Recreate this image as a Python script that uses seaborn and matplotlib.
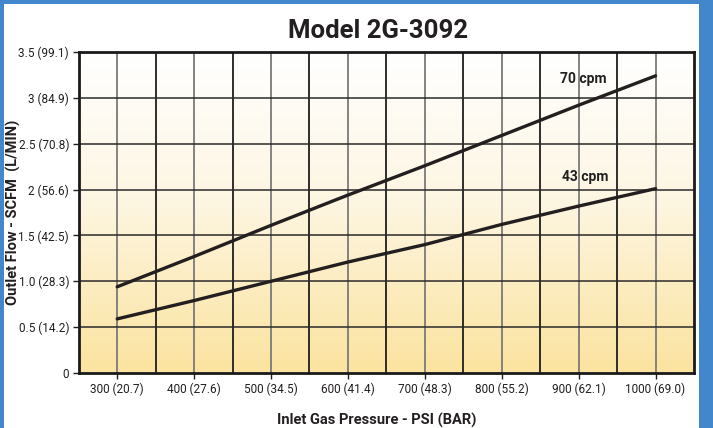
import numpy as np
import pandas as pd
import matplotlib
matplotlib.use("Agg")
import matplotlib.pyplot as plt
from matplotlib.patches import Rectangle
import seaborn as sns

# data
pressure_psi = [300, 400, 500, 600, 700, 800, 900, 1000]
flow_70cpm = [0.94, 1.27, 1.61, 1.94, 2.26, 2.59, 2.92, 3.24]
flow_43cpm = [0.59, 0.79, 1.00, 1.21, 1.40, 1.62, 1.82, 2.01]
series_names = ["70 cpm", "43 cpm"]
x_ticks = [300, 400, 500, 600, 700, 800, 900, 1000]
x_tick_labels = ["300 (20.7)", "400 (27.6)", "500 (34.5)", "600 (41.4)",
                 "700 (48.3)", "800 (55.2)", "900 (62.1)", "1000 (69.0)"]
y_ticks = [0, 0.5, 1.0, 1.5, 2.0, 2.5, 3.0, 3.5]
y_tick_labels = ["0", "0.5 (14.2)", "1.0 (28.3)", "1.5 (42.5)", "2 (56.6)",
                 "2.5 (70.8)", "3 (84.9)", "3.5 (99.1)"]

df = pd.DataFrame({
    "pressure": pressure_psi * 2,
    "flow": flow_70cpm + flow_43cpm,
    "series": [series_names[0]] * len(pressure_psi) + [series_names[1]] * len(pressure_psi),
})

sns.set_style("white")
plt.rcParams["font.family"] = ["Roboto", "DejaVu Sans"]

fig = plt.figure(figsize=(7.13, 4.28), dpi=100)
fig.patch.set_facecolor("#4286cb")
# white card behind the chart
fig.patches.append(Rectangle((4 / 713, 0), 695 / 713, 1 - 4 / 428,
                             transform=fig.transFigure, facecolor="white",
                             edgecolor="none", zorder=-5))

ax = fig.add_axes([78.75 / 713, 1 - 373 / 428, (694 - 78.75) / 713, (373 - 52) / 428])
ax.set_zorder(2)

# white -> pale yellow gradient inside the plot area
grad = np.linspace(0, 1, 256).reshape(-1, 1)
top = np.array(matplotlib.colors.to_rgb("#ffffff"))
mid = np.array(matplotlib.colors.to_rgb("#fdf6e3"))
bot = np.array(matplotlib.colors.to_rgb("#fbe39f"))
g = grad[:, :, None]
img = np.where(g < 0.45, top + (mid - top) * (g / 0.45),
               mid + (bot - mid) * ((g - 0.45) / 0.55))
ax.imshow(img, extent=[250, 1050, 0, 3.5], origin="upper", aspect="auto", zorder=0)

# grid: grey at labelled x ticks, black in between, dark horizontals
for x in np.arange(300, 1050, 50):
    c = "#7a7a7a" if x % 100 == 0 else "#1e1e1e"
    ax.axvline(x, color=c, lw=1.3, zorder=1)
for y in y_ticks[1:-1]:
    ax.axhline(y, color="#2a2a2a", lw=1.1, zorder=1)

sns.lineplot(data=df, x="pressure", y="flow", hue="series",
             palette=["#231f20", "#231f20"], linewidth=2.4, legend=False,
             ax=ax, zorder=3)
ax.set_xlim(250, 1050)
ax.set_ylim(0, 3.5)

ax.text(906, 3.21, "70 cpm", ha="center", va="center", fontsize=10,
        fontweight="bold", color="#231f20", zorder=4)
ax.text(908, 2.14, "43 cpm", ha="center", va="center", fontsize=10,
        fontweight="bold", color="#231f20", zorder=4)

ax.set_xticks(x_ticks)
ax.set_xticklabels(x_tick_labels, fontsize=8.5)
ax.set_yticks(y_ticks)
ax.set_yticklabels(y_tick_labels, fontsize=8.5)
ax.tick_params(axis="both", length=4, width=1, color="#231f20", pad=3,
               labelcolor="#231f20", direction="out")
ax.xaxis.set_ticks_position("bottom")
ax.yaxis.set_ticks_position("left")
for s in ax.spines.values():
    s.set_visible(True)
    s.set_color("#1a1a1a")
    s.set_linewidth(2)
    s.set_zorder(5)

ax.set_xlabel("Inlet Gas Pressure - PSI (BAR)", fontsize=10.5, fontweight="bold",
              color="#231f20")
ax.xaxis.set_label_coords(0.485, -0.125)
ax.set_ylabel("Outlet Flow - SCFM  (L/MIN)", fontsize=10.5, fontweight="bold",
              color="#231f20")
ax.yaxis.set_label_coords(-0.094, 0.5)
fig.text(378 / 713, 1 - 31 / 428, "Model 2G-3092", ha="center", va="center",
         fontsize=18.5, fontweight="bold", color="#231f20")

fig.savefig("out.png", dpi=100, facecolor=fig.get_facecolor())
